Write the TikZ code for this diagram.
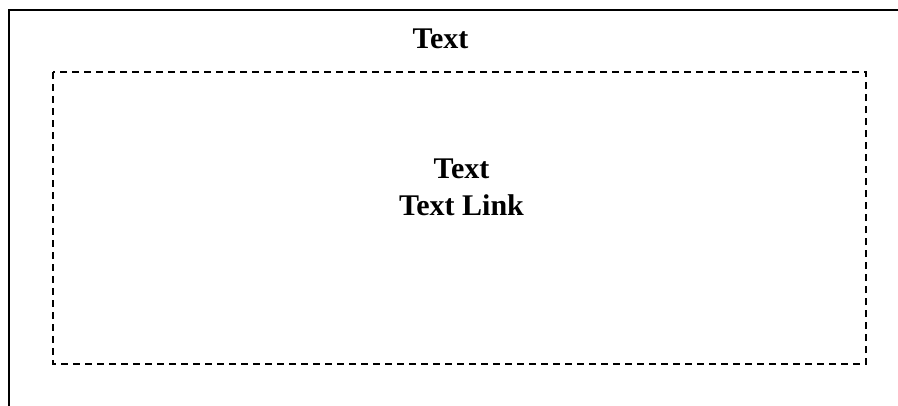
\documentclass[tikz,border=0pt]{standalone}
\usepackage{fontspec}
\setmainfont{Liberation Serif}
\usetikzlibrary{positioning}

\begin{document}
\begin{tikzpicture}[x=1pt,y=-1pt,
  label text/.style={font=\fontsize{30}{37}\selectfont\bfseries,align=center,inner sep=0pt}]
% Picture size is fixed by the page corners
\useasboundingbox (0,0) rectangle (898,405);
\clip (0,0) rectangle (898,405);
% Outer frame runs past the right and bottom edges
\coordinate (ol) at (9,10);
\coordinate (or) at (940,440);
\draw[line width=1.6pt] (ol) rectangle (or);
% Dashed inner frame from (il) to (ir)
\coordinate (il) at (53,72);
\coordinate (ir) at (866,364);
\draw[line width=1.4pt,dash pattern=on 7pt off 5pt] (il) rectangle (ir);
% Title above the inner frame
\node [label text,anchor=base] (title) at (440.5,48) {Text};
% Text in the middle of the inner frame (base is the last line)
\node [label text,anchor=base] (body) at (461.5,215) {Text\\Text Link};
\end{tikzpicture}
\end{document}
